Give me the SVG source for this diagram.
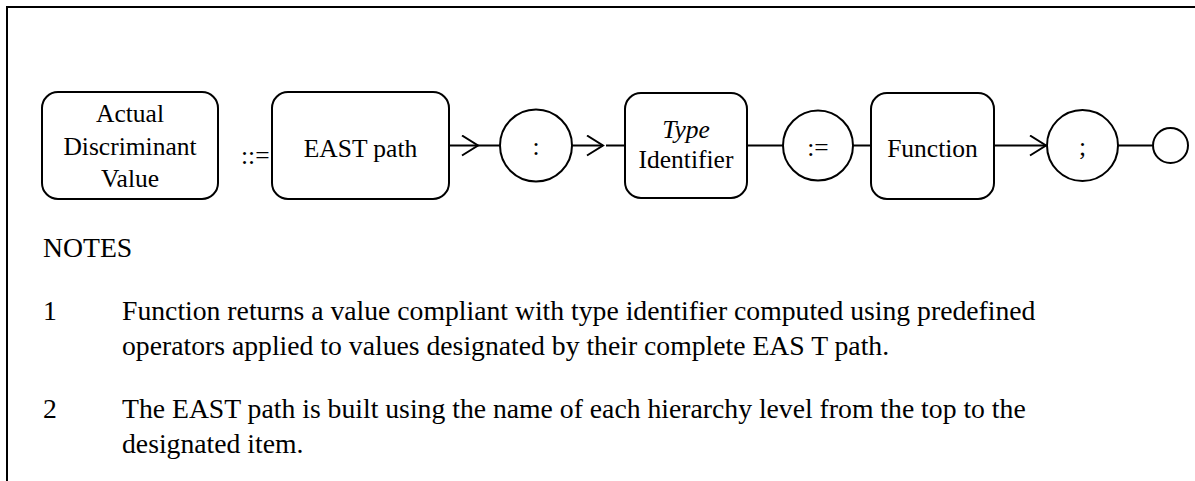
<svg xmlns="http://www.w3.org/2000/svg" width="1195" height="481" viewBox="0 0 1195 481">
<style>
.s{fill:none;stroke:#000;stroke-width:2}
.n{fill:#fff;stroke:#000;stroke-width:2}
text{font-family:"Liberation Serif","Times New Roman",serif;font-size:25.5px;fill:#000}
.c{text-anchor:middle}
.i{font-style:italic}
.t{font-size:27.7px}
</style>
<defs>
<marker id="ah" markerWidth="20" markerHeight="24" refX="17" refY="11" orient="auto" markerUnits="userSpaceOnUse">
<path d="M1,1 L17,11 L1,21" fill="none" stroke="#000" stroke-width="2"/>
</marker>
</defs>
<rect width="1195" height="481" fill="#fff"/>
<path class="s" d="M7,481 V7 H1195"/>
<g id="connectors">
<line class="s" x1="449" y1="145.5" x2="478" y2="145.5" marker-end="url(#ah)"/>
<line class="s" x1="478" y1="145.5" x2="500" y2="145.5"/>
<line class="s" x1="572" y1="145.5" x2="603" y2="145.5" marker-end="url(#ah)"/>
<line class="s" x1="606" y1="145.5" x2="625" y2="145.5"/>
<line class="s" x1="747" y1="145.5" x2="783" y2="145.5"/>
<line class="s" x1="853" y1="145.5" x2="871" y2="145.5"/>
<line class="s" x1="994" y1="145.5" x2="1046" y2="145.5" marker-end="url(#ah)"/>
<line class="s" x1="1118" y1="145.5" x2="1152" y2="145.5"/>
</g>
<g id="n-actual">
<rect class="n" x="42" y="92" width="176" height="107" rx="16"/>
<text class="c" x="130" y="122">Actual</text>
<text class="c" x="130" y="155">Discriminant</text>
<text class="c" x="130" y="187">Value</text>
</g>
<g id="n-def"><text x="241" y="164">::=</text></g>
<g id="n-east">
<rect class="n" x="272" y="92" width="177" height="107" rx="16"/>
<text class="c" x="360.5" y="157">EAST path</text>
</g>
<g id="n-colon">
<circle class="n" cx="536" cy="145.5" r="36"/>
<text class="c" x="536" y="155">:</text>
</g>
<g id="n-type">
<rect class="n" x="625" y="93" width="122" height="105" rx="16"/>
<text class="c i" x="686" y="138">Type</text>
<text class="c" x="686" y="168">Identifier</text>
</g>
<g id="n-assign">
<circle class="n" cx="818" cy="145.5" r="35"/>
<text class="c" x="818" y="156">:=</text>
</g>
<g id="n-function">
<rect class="n" x="871" y="93" width="123" height="106" rx="16"/>
<text class="c" x="932.5" y="157">Function</text>
</g>
<g id="n-semi">
<circle class="n" cx="1082.5" cy="145.5" r="35.5"/>
<text class="c" x="1082.5" y="155">;</text>
</g>
<g id="n-end">
<circle class="n" cx="1170.5" cy="145.5" r="17.5"/>
</g>
<g id="notes" class="t">
<text class="t" x="43" y="257">NOTES</text>
<text class="t" x="43" y="320">1</text>
<text class="t" x="122" y="320">Function returns a value compliant with type identifier computed using predefined</text>
<text class="t" x="122" y="355">operators applied to values designated by their complete EAS T path.</text>
<text class="t" x="43" y="418">2</text>
<text class="t" x="122" y="418">The EAST path is built using the name of each hierarchy level from the top to the</text>
<text class="t" x="122" y="453">designated item.</text>
</g>
</svg>
